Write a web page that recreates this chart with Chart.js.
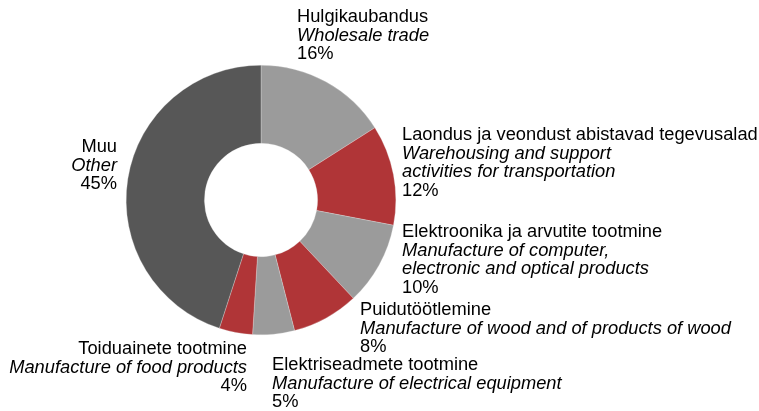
<!DOCTYPE html>
<html>
<head>
<meta charset="utf-8">
<script src="https://cdn.jsdelivr.net/npm/chart.js@4.4.1/dist/chart.umd.min.js"></script>
<style>
html,body{margin:0;padding:0;background:#fff;}
#wrap{width:759px;height:411px;position:relative;}
</style>
</head>
<body>
<div id="wrap"><canvas id="c" width="759" height="411"></canvas></div>
<script>
// Data
const categoriesEt = ["Hulgikaubandus", "Laondus ja veondust abistavad tegevusalad", "Elektroonika ja arvutite tootmine", "Puidutöötlemine", "Elektriseadmete tootmine", "Toiduainete tootmine", "Muu"];
const categoriesEn = [["Wholesale trade"], ["Warehousing and support", "activities for transportation"], ["Manufacture of computer,", "electronic and optical products"], ["Manufacture of wood and of products of wood"], ["Manufacture of electrical equipment"], ["Manufacture of food products"], ["Other"]];
const shares = [16, 12, 10, 8, 5, 4, 45];
const colors = ["#9b9b9b", "#b03537", "#9b9b9b", "#b03537", "#9b9b9b", "#b03537", "#575757"];

// label layout (style only)
const labelPos = [
  {x: 297, y: 17, align: "left"},
  {x: 402, y: 135, align: "left"},
  {x: 402, y: 232, align: "left"},
  {x: 360, y: 310, align: "left"},
  {x: 272, y: 365, align: "left"},
  {x: 247, y: 349, align: "right"},
  {x: 117, y: 147, align: "right"}
];
const lineH = 18.5;
const fontSize = 18.3;
const fontFam = '"Liberation Sans", Arial, sans-serif';

const labelPlugin = {
  id: "sliceLabels",
  afterDraw(chart) {
    const ctx = chart.ctx;
    ctx.save();
    ctx.fillStyle = "#000";
    ctx.textBaseline = "middle";
    const meta = chart.getDatasetMeta(0);
    meta.data.forEach((arc, i) => {
      const p = labelPos[i];
      ctx.textAlign = p.align;
      let y = p.y;
      ctx.font = fontSize + "px " + fontFam;
      ctx.fillText(categoriesEt[i], p.x, y);
      y += lineH;
      ctx.font = "italic " + fontSize + "px " + fontFam;
      categoriesEn[i].forEach(l => { ctx.fillText(l, p.x, y); y += lineH; });
      ctx.font = fontSize + "px " + fontFam;
      ctx.fillText(chart.data.datasets[0].data[i] + "%", p.x, y);
    });
    ctx.restore();
  }
};

new Chart(document.getElementById("c"), {
  type: "doughnut",
  data: {
    labels: categoriesEt,
    datasets: [{
      data: shares,
      backgroundColor: colors,
      borderColor: "#e8e8e8",
      borderWidth: 0.3,
      hoverOffset: 0
    }]
  },
  options: {
    responsive: false,
    animation: false,
    cutout: "42%",
    rotation: 0,
    layout: {padding: {left: 126, right: 363, top: 65, bottom: 76}},
    plugins: {legend: {display: false}, tooltip: {enabled: false}}
  },
  plugins: [labelPlugin]
});
</script>
</body>
</html>
